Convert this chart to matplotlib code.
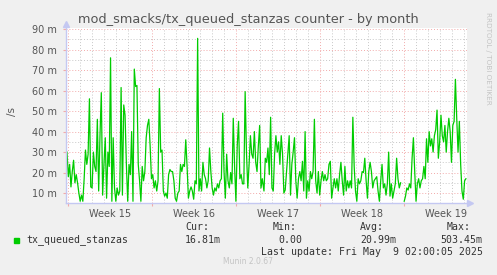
import numpy as np
import matplotlib
matplotlib.use("Agg")
import matplotlib.pyplot as plt

# ---------------- data (values in milli-units per second) ----------------
title = "mod_smacks/tx_queued_stanzas counter - by month"
series_name = "tx_queued_stanzas"
week_labels = ["Week 15", "Week 16", "Week 17", "Week 18", "Week 19"]
y_ticks = [10, 20, 30, 40, 50, 60, 70, 80, 90]
y_tick_labels = ["10 m", "20 m", "30 m", "40 m", "50 m", "60 m", "70 m", "80 m", "90 m"]

# time (days since start of graph) for each segment start/end
seg_a_span = (0.083, 16.35)
seg_b_span = (16.49, 27.87)
seg_c_span = (28.17, 33.31)

seg_a = [30, 18, 24, 13, 20.5, 26, 15, 19, 15, 10, 6, 9, 6, 17, 31, 24, 29, 56, 13, 12.5,
         30, 23, 20.5, 46, 11, 38, 59, 9, 24, 37, 7.5, 30, 23, 76, 6, 37, 12.5, 6, 12.5, 9,
         11, 61.5, 9, 53, 48, 24, 6, 24, 19, 40, 6, 70.5, 62, 62.5, 24, 16, 6, 23, 16, 20.5,
         37, 43, 46, 33, 17, 19, 12.5, 16, 11, 16, 61, 30, 31, 11, 8.5, 10, 7.5, 19, 21.5, 20.5,
         20.5, 16, 7.5, 6, 10, 11, 24, 20.5, 24, 23, 36, 23, 7.5, 11, 13, 11, 7, 16, 14.5, 85.5,
         11, 17, 11, 25, 19, 17, 12.5, 16, 32, 20.5, 12.5, 9, 12.5, 11, 14.5, 12.5, 16, 17, 49, 20.5,
         7.5, 29, 16, 12.5, 20, 14.5, 46.5, 23, 6, 33, 45, 17, 19, 14.5, 14.5, 59.5, 30, 12.5, 24, 38,
         29, 27, 40, 25, 20.5, 33, 43, 12.5, 17]

seg_b = [11, 27, 25, 32, 19, 47, 12.5, 11, 29, 38, 30, 35, 24, 38, 29, 10, 11.5, 20.5, 30, 38,
         9, 24, 30, 37, 16, 7.5, 17, 20.5, 16, 25.5, 11, 40, 7.5, 16, 11, 20.5, 17, 20.5, 46, 16,
         10, 20.5, 9, 16, 20.5, 16, 19, 16, 17, 24, 25.5, 7.5, 12.5, 17, 12.5, 17, 11, 19, 25, 16,
         9, 23, 11, 16, 12.5, 16, 12.5, 47, 23, 11, 6, 17, 14.5, 16, 20.5, 20, 27, 16, 7.5, 20.5,
         25, 20.5, 12.5, 16, 17, 18, 11, 6, 16, 24, 12.5, 14.5, 9, 14.5, 30, 8.5, 14.5, 7.5, 11, 14.5,
         27, 17, 12.5, 15]

seg_c = [6, 8.5, 12.5, 11.5, 14.5, 12.5, 27, 37, 20.5, 6, 14.5, 17, 12.5, 16, 17, 23, 17, 36.5, 25, 40,
         33, 36.5, 30, 38, 41, 50.5, 27, 35, 48, 38, 35, 43, 30, 40, 46.5, 40, 25, 43, 45, 65.5,
         46.5, 30, 45, 24, 11, 7, 16, 17]

legend_cur, legend_min, legend_avg, legend_max = "16.81m", "0.00", "20.99m", "503.45m"
last_update = "Last update: Fri May  9 02:00:05 2025"
version = "Munin 2.0.67"

# ---------------- build series ----------------
t = np.concatenate([np.linspace(*seg_a_span, len(seg_a)),
                    np.linspace(*seg_b_span, len(seg_b)),
                    [(seg_b_span[1] + seg_c_span[0]) / 2],
                    np.linspace(*seg_c_span, len(seg_c))])
v = np.concatenate([seg_a, seg_b, [np.nan], seg_c])

# ---------------- figure ----------------
W, H = 497, 275
fig = plt.figure(figsize=(W / 100, H / 100), dpi=100, facecolor="#F0F0F0")
L, R, B, T = 66, 467, 202.7, 27.7
ax = fig.add_axes([L / W, (H - B) / H, (R - L) / W, (B - T) / H])
ax.set_facecolor("white")

x_max = 33.4
ax.set_xlim(0, x_max)
ax.set_ylim(5.3, 90.7)

txt_col = "#555555"
grid_gray = "#C8C8C8"
grid_red = "#F2AAAA"
axis_col = "#C4C8F2"

week0 = 0.167
days = np.arange(week0, x_max, 1.0)
weeks = np.arange(week0, x_max, 7.0)
ax.set_xticks(days, minor=True)
ax.set_xticks(weeks)
ax.set_xticklabels([])
ax.set_yticks(y_ticks)
ax.set_yticklabels(y_tick_labels, fontsize=7, color=txt_col)
ax.set_yticks(np.arange(15, 90, 10), minor=True)

ax.grid(which="minor", color=grid_gray, linestyle=(0, (1, 2)), linewidth=0.7)
ax.grid(which="major", color=grid_red, linestyle=(0, (1, 2)), linewidth=0.7)
ax.set_axisbelow(True)

ax.tick_params(axis="y", which="major", length=2, color=grid_red, pad=4.5)
ax.tick_params(axis="y", which="minor", length=0)
ax.tick_params(axis="x", which="major", length=2, color=grid_red, direction="out")
ax.tick_params(axis="x", which="minor", length=0)

for s in ["top", "right"]:
    ax.spines[s].set_visible(False)
for s in ["left", "bottom"]:
    ax.spines[s].set_color(axis_col)
    ax.spines[s].set_linewidth(1.0)

# arrows on axes
ax.plot([1.008], [0], marker=">", markersize=4, color=axis_col, transform=ax.transAxes, clip_on=False)
ax.plot([0], [1.02], marker="^", markersize=4, color=axis_col, transform=ax.transAxes, clip_on=False)
ax.plot([1.0, 1.008], [0, 0], color=axis_col, lw=1.0, transform=ax.transAxes, clip_on=False)

# week labels at mid-week
for i, lab in enumerate(week_labels):
    ax.text(weeks[i] + 3.5, -0.035, lab, transform=ax.get_xaxis_transform(),
            ha="center", va="top", fontsize=7, color=txt_col)

ax.plot(t, v, color="#00CC00", linewidth=0.9)

# texts
fig.text(248 / W, 1 - 19 / H, title, ha="center", va="center", fontsize=9.3, color=txt_col)
fig.text(12 / W, 1 - 112 / H, "/s", ha="center", va="center", rotation=90, fontsize=7.5, color=txt_col)
fig.text(488 / W, 1 - 58 / H, "RRDTOOL / TOBI OETIKER", ha="center", va="center", rotation=270,
         fontsize=5.2, color="#C4C4C4")

mono = dict(family="DejaVu Sans Mono", fontsize=7.1, color="#333333", va="center")
fig.patches.append(plt.Rectangle((14 / W, 1 - 243 / H), 5 / W, 5 / H, transform=fig.transFigure,
                                 color="#00CC00", figure=fig))
fig.text(26 / W, 1 - 240 / H, series_name, ha="left", **mono)
for xs, head in [(185.3, "Cur:"), (272.7, "Min:"), (360, "Avg:"), (446.7, "Max:")]:
    fig.text(xs / W, 1 - 227.5 / H, head, ha="left", **mono)
for xe, val in [(221, legend_cur), (302.7, legend_min), (396, legend_avg), (482.7, legend_max)]:
    fig.text(xe / W, 1 - 240 / H, val, ha="right", **mono)
fig.text(482.7 / W, 1 - 252 / H, last_update, ha="right", **mono)
fig.text(248 / W, 1 - 262 / H, version, ha="center", va="center", fontsize=5.5, color="#C4C4C4")

fig.savefig("out.png", dpi=100, facecolor=fig.get_facecolor())
